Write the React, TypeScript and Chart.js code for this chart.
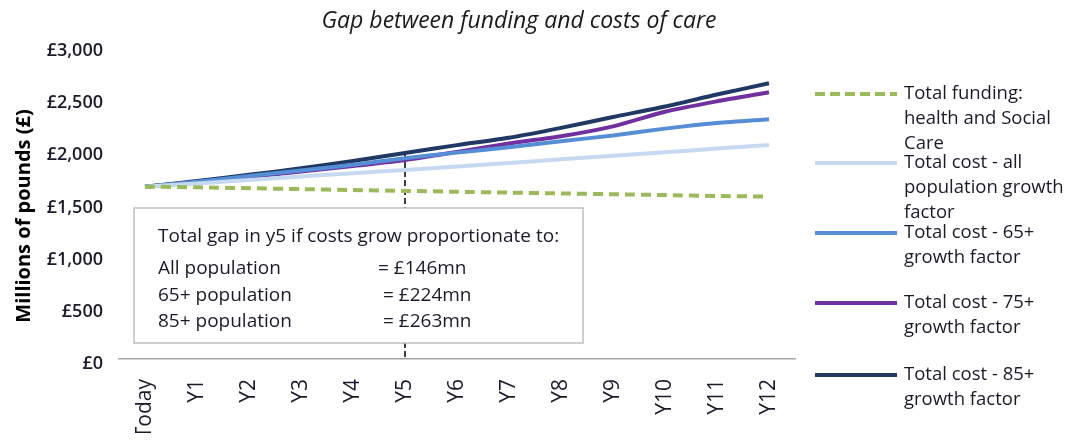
import React, { useEffect, useRef } from "react";
import { Chart, registerables } from "chart.js";

Chart.register(...registerables);

const categories = ["Today", "Y1", "Y2", "Y3", "Y4", "Y5", "Y6", "Y7", "Y8", "Y9", "Y10", "Y11", "Y12"];
const totalFunding = [1652, 1645, 1637, 1628, 1620, 1611, 1603, 1595, 1587, 1579, 1571, 1563, 1556];
const costAllPop = [1652, 1683, 1716, 1749, 1781, 1812, 1846, 1879, 1914, 1947, 1982, 2017, 2052];
const cost65 = [1652, 1700, 1753, 1806, 1862, 1925, 1978, 2030, 2088, 2142, 2208, 2262, 2298];
const cost75 = [1652, 1694, 1744, 1798, 1850, 1908, 1985, 2065, 2135, 2230, 2370, 2470, 2557];
const cost85 = [1652, 1705, 1765, 1828, 1898, 1975, 2050, 2120, 2215, 2320, 2420, 2535, 2643];
const yTicks = [0, 500, 1000, 1500, 2000, 2500, 3000];

const seriesNames = [
  ["Total funding:", "health and Social", "Care"],
  ["Total cost - all", "population growth", "factor"],
  ["Total cost - 65+", "growth factor"],
  ["Total cost - 75+", "growth factor"],
  ["Total cost - 85+", "growth factor"],
];
const seriesColors = ["#9bbb59", "#c6d9f1", "#558ed5", "#7030a0", "#1f3864"];

const boxTitle = "Total gap in y5 if costs grow proportionate to:";
const gapLabels = ["All population", "65+ population", "85+ population"];
const gapValues = ["= £146mn", "= £224mn", "= £263mn"];
const gapYearIndex = 5;

const FONT = "'Open Sans', sans-serif";

const overlayPlugin = {
  id: "overlay",
  beforeDatasetsDraw(chart: any) {
    const ctx = chart.ctx;
    const ca = chart.chartArea;
    const x = chart.scales.x.getPixelForValue(gapYearIndex);
    const yTop = chart.scales.y.getPixelForValue(cost85[gapYearIndex]);
    ctx.save();
    ctx.strokeStyle = "#000000";
    ctx.lineWidth = 1.5;
    ctx.setLineDash([6, 3]);
    ctx.beginPath();
    ctx.moveTo(x, yTop);
    ctx.lineTo(x, ca.bottom);
    ctx.stroke();
    ctx.setLineDash([]);
    // annotation box
    const bl = ca.left + 15;
    const br = ca.left + 464;
    const bt = ca.bottom - 151;
    const bb = ca.bottom - 16;
    ctx.fillStyle = "#ffffff";
    ctx.fillRect(bl, bt, br - bl, bb - bt);
    ctx.strokeStyle = "#bfbfbf";
    ctx.lineWidth = 1.5;
    ctx.strokeRect(bl, bt, br - bl, bb - bt);
    ctx.fillStyle = "#1a1a2a";
    ctx.font = `19px ${FONT}`;
    ctx.textBaseline = "middle";
    ctx.textAlign = "left";
    ctx.fillText(boxTitle, bl + 24, bt + 29);
    const rowsY = [bt + 61, bt + 88, bt + 114];
    const valX = [bl + 244, bl + 249, bl + 249];
    for (let i = 0; i < gapLabels.length; i++) {
      ctx.fillText(gapLabels[i], bl + 24, rowsY[i]);
      ctx.fillText(gapValues[i], valX[i], rowsY[i]);
    }
    ctx.restore();
  },
  afterDraw(chart: any) {
    const ctx = chart.ctx;
    ctx.save();
    // title
    ctx.fillStyle = "#1a1a1a";
    ctx.font = `italic 23px ${FONT}`;
    ctx.textAlign = "center";
    ctx.textBaseline = "middle";
    ctx.fillText("Gap between funding and costs of care", 511, 13);
    // y title
    ctx.save();
    ctx.translate(16, 208);
    ctx.rotate(-Math.PI / 2);
    ctx.font = `bold 20px ${FONT}`;
    ctx.fillStyle = "#000000";
    ctx.fillText("Millions of pounds (£)", 0, 0);
    ctx.restore();
    // legend
    const itemY = [86, 155, 225, 295, 367];
    const lineX0 = 807;
    const lineX1 = 889;
    const textX = 896;
    ctx.font = `18.5px ${FONT}`;
    ctx.textAlign = "left";
    for (let i = 0; i < seriesNames.length; i++) {
      const y = itemY[i];
      ctx.strokeStyle = seriesColors[i];
      ctx.lineWidth = 4;
      ctx.lineCap = "butt";
      ctx.setLineDash(i === 0 ? [10, 5] : []);
      ctx.beginPath();
      ctx.moveTo(lineX0, y);
      ctx.lineTo(lineX1, y);
      ctx.stroke();
      ctx.setLineDash([]);
      ctx.fillStyle = "#1a1a2a";
      seriesNames[i].forEach((t, j) => ctx.fillText(t, textX, y + j * 25));
    }
    ctx.restore();
  },
};

export default function App() {
  const ref = useRef<HTMLCanvasElement>(null);
  useEffect(() => {
    if (!ref.current) return;
    const mk = (label: string, data: number[], color: string, dashed = false) => ({
      label,
      data,
      borderColor: color,
      backgroundColor: color,
      borderWidth: 4,
      borderDash: dashed ? [10, 6] : [],
      pointRadius: 0,
      tension: 0.25,
      fill: false,
    });
    const chart = new Chart(ref.current, {
      type: "line",
      data: {
        labels: categories,
        datasets: [
          mk(seriesNames[0].join(" "), totalFunding, seriesColors[0], true),
          mk(seriesNames[1].join(" "), costAllPop, seriesColors[1]),
          mk(seriesNames[2].join(" "), cost65, seriesColors[2]),
          mk(seriesNames[3].join(" "), cost75, seriesColors[3]),
          mk(seriesNames[4].join(" "), cost85, seriesColors[4]),
        ],
      },
      options: {
        animation: false,
        responsive: false,
        maintainAspectRatio: false,
        layout: { padding: { left: 0, top: 38, right: 268, bottom: 0 } },
        plugins: { legend: { display: false }, tooltip: { enabled: false }, title: { display: false } },
        scales: {
          x: {
            offset: true,
            grid: { display: false, drawTicks: false },
            border: { display: true, color: "#a6a6a6", width: 1.5 },
            ticks: {
              minRotation: 90,
              maxRotation: 90,
              autoSkip: false,
              padding: 20,
              color: "#1a1a2a",
              font: { family: FONT, size: 21 },
            },
            afterFit: (s: any) => {
              s.height = 74;
            },
          },
          y: {
            min: 0,
            max: 3000,
            afterBuildTicks: (s: any) => {
              s.ticks = yTicks.map((v) => ({ value: v }));
            },
            grid: { display: false, drawTicks: false },
            border: { display: false },
            ticks: {
              padding: 16,
              labelOffset: 5,
              color: "#1a1a2a",
              font: { family: FONT, size: 18, weight: "600" },
              callback: (v: any) => "£" + Number(v).toLocaleString("en-GB"),
            },
            afterFit: (s: any) => {
              s.width = 111;
            },
          },
        },
      },
      plugins: [overlayPlugin],
    });
    return () => chart.destroy();
  }, []);
  return <canvas ref={ref} width={1055} height={425} style={{ display: "block" }} />;
}
